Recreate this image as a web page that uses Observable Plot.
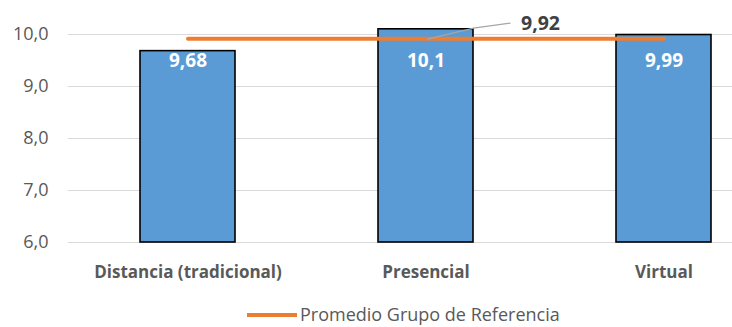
<!DOCTYPE html>
<html>
<head>
<meta charset="utf-8">
<script src="https://cdn.jsdelivr.net/npm/d3@7"></script>
<script src="https://cdn.jsdelivr.net/npm/@observablehq/plot@0.6"></script>
<style>
  html, body { margin: 0; padding: 0; background: #fff; }
  body { width: 732px; height: 327px; overflow: hidden; font-family: "Open Sans", sans-serif; }
  #legend { display: flex; align-items: center; height: 25px; line-height: 25px; padding-top: 4px; padding-left: 247px; color: #595959; font-size: 18px; }
  #legend .swatch { width: 50px; height: 4px; background: #ed7d31; margin-right: 3px; }
</style>
</head>
<body>
<div id="chart"></div>
<div id="legend"><span class="swatch"></span><span id="legend-text"></span></div>
<script>
const categories = ["Distancia (tradicional)", "Presencial", "Virtual"];
const values = [9.68, 10.1, 9.99];
const valueLabels = ["9,68", "10,1", "9,99"];
const referenceValue = 9.92;
const referenceLabel = "9,92";
const referenceName = "Promedio Grupo de Referencia";
const yTicks = [6, 7, 8, 9, 10];

const bars = categories.map((c, i) => ({cat: c, value: values[i], label: valueLabels[i]}));
const refLine = [categories[0], categories[categories.length - 1]].map(c => ({cat: c, value: referenceValue}));

const fmt = d => d.toFixed(1).replace(".", ",");

const chart = Plot.plot({
  width: 732,
  height: 298,
  marginLeft: 68,
  marginRight: 0,
  marginTop: 34,
  marginBottom: 56,
  style: {fontFamily: "Open Sans, sans-serif", background: "#fff", overflow: "visible"},
  x: {domain: categories, range: [68, 783], paddingInner: 0.6, paddingOuter: 0.3, label: null},
  y: {domain: [yTicks[0], yTicks[yTicks.length - 1]], label: null},
  marks: [
    Plot.gridY({ticks: yTicks, stroke: "#d9d9d9", strokeOpacity: 1, strokeWidth: 1}),
    Plot.axisY({ticks: yTicks, tickFormat: fmt, tickSize: 0, tickPadding: 20, fontSize: 18, fill: "#595959"}),
    Plot.axisX({tickSize: 0, tickPadding: 23, fontSize: 17, fontWeight: "bold", fill: "#595959"}),
    Plot.barY(bars, {x: "cat", y1: yTicks[0], y2: "value", fill: "#5b9bd5", stroke: "#000", strokeWidth: 1.6}),
    Plot.text(bars, {x: "cat", y: () => 9.5, text: "label", fill: "#fff", fontSize: 19, fontWeight: "bold"}),
    Plot.line(refLine, {x: "cat", y: "value", stroke: "#ed7d31", strokeWidth: 4}),
    // leader line and data label for the reference value
    (index, scales) => {
      const cx = scales.x(categories[1]) + scales.x.bandwidth() / 2;
      const cy = scales.y(referenceValue);
      const g = d3.create("svg:g");
      g.append("path")
        .attr("d", `M${cx + 2},${cy + 1}L${cx + 48},${cy - 10}L${cx + 85},${cy - 15}`)
        .attr("fill", "none").attr("stroke", "#a6a6a6").attr("stroke-width", 1.2);
      g.append("text")
        .attr("x", cx + 115).attr("y", cy - 15).attr("dy", "0.35em")
        .attr("text-anchor", "middle").attr("fill", "#404040")
        .attr("font-size", 19.5).attr("font-weight", "bold")
        .text(referenceLabel);
      return g.node();
    }
  ]
});
document.getElementById("chart").append(chart);
document.getElementById("legend-text").textContent = referenceName;
</script>
</body>
</html>
